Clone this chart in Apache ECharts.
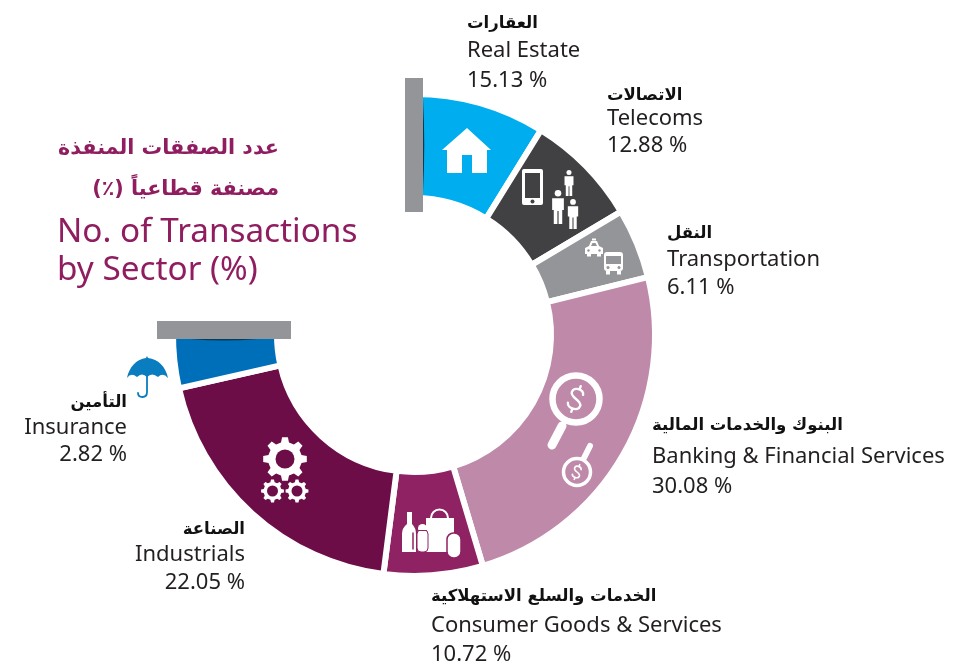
<!DOCTYPE html>
<html>
<head>
<meta charset="utf-8">
<style>html,body{margin:0;padding:0;background:#fff}#chart{width:979px;height:665px}</style>
<script src="https://cdn.jsdelivr.net/npm/echarts@6/dist/echarts.min.js"></script>
</head>
<body>
<div id="chart"></div>
<script>
// Labelled shares, as printed on the reference
const sectorsEn = ['Real Estate','Telecoms','Transportation','Banking & Financial Services','Consumer Goods & Services','Industrials','Insurance'];
const sectorsAr = ['العقارات','الاتصالات','النقل','البنوك والخدمات المالية','الخدمات والسلع الاستهلاكية','الصناعة','التأمين'];
const printedValues = [15.13,12.88,6.11,30.08,10.72,22.05,2.82];
// The reference's arcs are not proportional to the printed shares: these are the arc spans (degrees)
const arcSpans = [31.8,27.4,16.9,87.3,23.9,69.9,13.5];
const sectorColors = ['#00aeef','#414042','#939598','#bf89a9','#8f2263','#6c0d48','#006fba'];
const titleLines = ['عدد الصفقات المنفذة','مصنفة قطاعياً (٪)\u200F','No. of Transactions','by Sector (%)'];

const AR = '"DejaVu Sans"', EN = '"Noto Sans"';
const labelPos = [
  {x:467,a:'left',y:[24,51,81]},{x:607,a:'left',y:[96,119,146]},{x:667,a:'left',y:[234,260,288]},
  {x:652,a:'left',y:[426,457,487]},{x:431,a:'left',y:[597,626,655]},{x:245,a:'right',y:[530,555,583]},{x:127,a:'right',y:[403,428,455]}
];
const els = [];
const txt = (text,x,y,font,fill,a) => els.push({type:'text',z:100,silent:true,style:{text,x,y,font,fill,textAlign:a,textBaseline:'middle',verticalAlign:'middle'}});
let pathCount = 0;
const path = (d,fill,extra) => {
  const name = 'iconPath'+(pathCount++);
  echarts.graphic.registerShape(name, echarts.graphic.extendPath(d,{}));
  els.push({type:name,z:100,silent:true,style:Object.assign({fill:fill||'none'},extra||{})});
};
const line = (d,color,w) => path(d,'none',{stroke:color,lineWidth:w,lineCap:'round',lineJoin:'round'});
const circ = (cx,cy,r,fill,stroke,w) => els.push({type:'circle',z:100,silent:true,shape:{cx,cy,r},style:{fill:fill||'none',stroke:stroke||'none',lineWidth:w||0}});
const rect = (x,y,width,height,fill,r) => els.push({type:'rect',z:100,silent:true,shape:{x,y,width,height,r:r||0},style:{fill}});

// Text
sectorsEn.forEach((n,i)=>{
  const p = labelPos[i];
  txt(sectorsAr[i],p.x,p.y[0],'bold 16.5px '+AR,'#111',p.a);
  txt(n,p.x,p.y[1],'22px '+EN,'#231f20',p.a);
  txt(printedValues[i].toFixed(2)+' %',p.x,p.y[2],'22px '+EN,'#231f20',p.a);
});
const T='#8f1d5f';
txt(titleLines[0],279,149,'bold 20.7px '+AR,T,'right');
txt(titleLines[1],279,190,'bold 20.7px '+AR,T,'right');
txt(titleLines[2],57,233,'33.3px '+EN,T,'left');
txt(titleLines[3],57,271,'33.3px '+EN,T,'left');

// Grey bars and their shade
path('M423 99 Q425.5 145 423 192 Z','#0a3a55');
path('M190 339 Q224 342 258 339 Z','#0a3a55');
rect(405,78,18,134,'#939598');
rect(157,321,134,18,'#939598');

// House
path('M467 128 L491 150 L487 150 L487 173 L472 173 L472 155 L462 155 L462 173 L447 173 L447 150 L442 150 Z','#fff');
// Phone
rect(522,169,21,36,'#fff',2); rect(525,173,15,25,'#414042'); circ(532.5,201.5,2,'#414042');
// People
const person=(cx,top,h)=>{const s=h/29;
  circ(cx,top+2.8*s,2.8*s,'#fff');
  path(`M${cx-5*s} ${top+7*s} L${cx+5*s} ${top+7*s} L${cx+5*s} ${top+17*s} L${cx+3.6*s} ${top+17*s} L${cx+3.6*s} ${top+h} L${cx+.5*s} ${top+h} L${cx+.5*s} ${top+18*s} L${cx-.5*s} ${top+18*s} L${cx-.5*s} ${top+h} L${cx-3.6*s} ${top+h} L${cx-3.6*s} ${top+17*s} L${cx-5*s} ${top+17*s} Z`,'#fff');
};
person(569,170,26); person(558,190,34); person(573,199,30);
// Taxi
path('M585 254 L585 248 L589 246 L591 241 L597 241 L599 246 L603 248 L603 254 Z','#fff');
rect(587,254,4,2.5,'#fff'); rect(597,254,4,2.5,'#fff'); rect(592,238.5,4,2,'#fff');
path('M591 246 L592.5 243 L595.5 243 L597 246 Z','#939598');
circ(588.5,250.5,1.2,'#939598'); circ(599.5,250.5,1.2,'#939598');
// Bus
rect(604,252,19,19,'#fff',3); rect(606,271,4,3.5,'#fff'); rect(617,271,4,3.5,'#fff');
rect(606,256,15,8,'#939598'); circ(608,267.5,1.5,'#939598'); circ(619,267.5,1.5,'#939598');
// Magnifiers
const dollar=(cx,cy,s,rot,w)=>{
  const a=rot*Math.PI/180,p=(x,y)=>{x*=s;y*=s;return (cx+x*Math.cos(a)-y*Math.sin(a)).toFixed(1)+' '+(cy+x*Math.sin(a)+y*Math.cos(a)).toFixed(1)};
  line(`M${p(5,-6)} C${p(4,-11)} ${p(-6,-11)} ${p(-6,-5)} C${p(-6,1)} ${p(6,-1)} ${p(6,5)} C${p(6,11)} ${p(-5,11)} ${p(-6,6)} M${p(0,-13)} L${p(0,-9.5)} M${p(0,9.5)} L${p(0,13)}`,'#fff',w);
};
circ(576,399,23.5,'none','#fff',6.5); line('M562 426 L552 445','#fff',9); dollar(576,399,1.05,20,2.4);
circ(577,472,13.5,'none','#fff',3.5); line('M584 458 L590 446','#fff',6); dollar(577,472,.6,20,1.6);
// Consumer goods
path('M407 512 L412 512 L412 524 Q416 528 416 534 L416 552 L402 552 L402 534 Q402 528 407 524 Z','#fff');
line('M413 533 L413 549','#8f2263',1.5);
els.push({type:'circle',z:100,silent:true,shape:{cx:439.5,cy:518,r:8.5},style:{fill:'none',stroke:'#fff',lineWidth:2}});
rect(426,518,28,34,'#fff');
els.push({type:'rect',z:100,silent:true,shape:{x:417,y:530,width:11,height:22,r:4},style:{fill:'#fff',stroke:'#8f2263',lineWidth:1}});
circ(422.5,528.5,4.5,'#fff');
line('M418.5 530.5 L426.5 530.5','#8f2263',1);
els.push({type:'rect',z:100,silent:true,shape:{x:447,y:533,width:14,height:25,r:6.5},style:{fill:'#fff',stroke:'#8f2263',lineWidth:1.5}});
// Gears
const gear=(cx,cy,R,r,hole,n)=>{let d='';
  for(let i=0;i<n;i++){const a=i/n*2*Math.PI,st=2*Math.PI/n;
    const P=(rad,t)=>(cx+rad*Math.cos(a+t*st)).toFixed(1)+' '+(cy+rad*Math.sin(a+t*st)).toFixed(1);
    d+=(i?'L':'M')+P(r,-.3)+' L'+P(R,-.17)+' L'+P(R,.17)+' L'+P(r,.3)+' ';}
  path(d+'Z','#fff'); circ(cx,cy,hole,'#6c0d48');
};
gear(285,459,22,17,9.5,8); gear(272.5,491,11.5,9,5.5,8); gear(297,491,11.5,9,5.5,8);
// Umbrella
path('M147 356 L148 358 C158 359 166 367 168 378 Q163 372 158 377 Q152 372 147 377 Q142 372 137 377 Q131 372 127 378 C129 367 137 359 146 358 Z','#0a7cc0');
line('M147 376 L147 392 Q147 397 142.5 397 Q138 397 138 393','#0a7cc0',1.8);

const chart = echarts.init(document.getElementById('chart'));
chart.setOption({
  animation:false,
  backgroundColor:'#fff',
  series:[{
    type:'pie',
    center:[414,335],
    radius:[137,241],
    startAngle:90,
    clockwise:true,
    silent:true,
    label:{show:false},labelLine:{show:false},
    data:arcSpans.map((v,i)=>({name:sectorsEn[i],value:v,itemStyle:{color:sectorColors[i],borderColor:'#fff',borderWidth:6}}))
      .concat([{name:'',value:360-arcSpans.reduce((a,b)=>a+b,0),itemStyle:{color:'rgba(0,0,0,0)',borderWidth:0}}])
  }],
  graphic:{elements:els}
});
</script>
</body>
</html>
